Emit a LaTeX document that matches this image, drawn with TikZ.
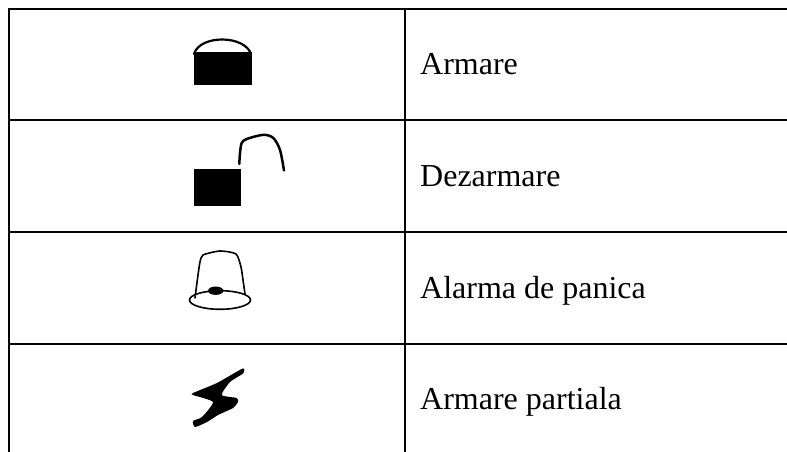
\documentclass[tikz,border=0pt]{standalone}
\usepackage{fontspec}
\setmainfont{Liberation Serif}
\tikzset{
  rule/.style={line width=2pt,black},
  lab/.style={anchor=base west,inner sep=0pt,font=\fontsize{32}{38}\selectfont,text=black},
  ink/.style={fill=black,draw=none},
  pen/.style={draw=black,line width=1.6pt,line cap=round,line join=round}
}
\begin{document}
\begin{tikzpicture}[x=1pt,y=-1pt]
\useasboundingbox (0,0) rectangle (787,452);
\fill[white] (0,0) rectangle (787,452);
% table frame
\coordinate (tl) at (8,9);
\coordinate (tr) at (787,9);
\coordinate (bl) at (9,452);
\coordinate (tv) at (9,8);
\coordinate (mt) at (405,9);
\coordinate (mb) at (405,452);
\draw[rule] (tl) -- (tr);
\draw[rule] (9,119.5) -- (787,119.5);
\draw[rule] (9,232) -- (787,232);
\draw[rule] (9,343.5) -- (787,343.5);
\draw[rule] (tv) -- (bl);
\draw[rule] (mt) -- (mb);
% labels
\node[lab] (a) at (420,74.7) {Armare};
\node[lab] (b) at (420,186.7) {Dezarmare};
\node[lab] (c) at (420,298) {Alarma de panica};
\node[lab] (d) at (420,409.7) {Armare partiala};
% lock closed
\fill[ink] (193.5,52.5) rectangle (251.5,84.5);
\draw[pen,line width=2.2pt] (194,54) .. controls (197,44) and (210,39.5) .. (222,39.5) .. controls (236,39.5) and (248,45) .. (251,54);
% lock open
\fill[ink] (193.5,169) rectangle (240.5,206);
\draw[pen,line width=2.5pt] plot[smooth,tension=.5] coordinates {(239.3,164) (240,153) (241.7,143) (246.7,139) (263.3,134.8) (273.3,138) (280,150) (284,170.5)};
% bell
\draw[pen] plot[smooth,tension=.4] coordinates {(195,298) (198,275) (200,262) (203,255) (220,251) (236,254) (241,267) (243,280) (245,294)};
\draw[pen] (220,300) ellipse (30.5 and 9.3);
\fill[ink] (215.7,290.7) ellipse (7.7 and 4.2);
% bolt
\fill[ink] plot[smooth cycle,tension=.35] coordinates {(242.7,368.5) (243.3,373.3) (230,382) (221.7,395) (236.7,398) (238,402) (233,408) (218,415) (207,422) (195,427) (193,421) (202,417) (213,402) (193,395) (193,393) (217,383)};
\end{tikzpicture}
\end{document}
